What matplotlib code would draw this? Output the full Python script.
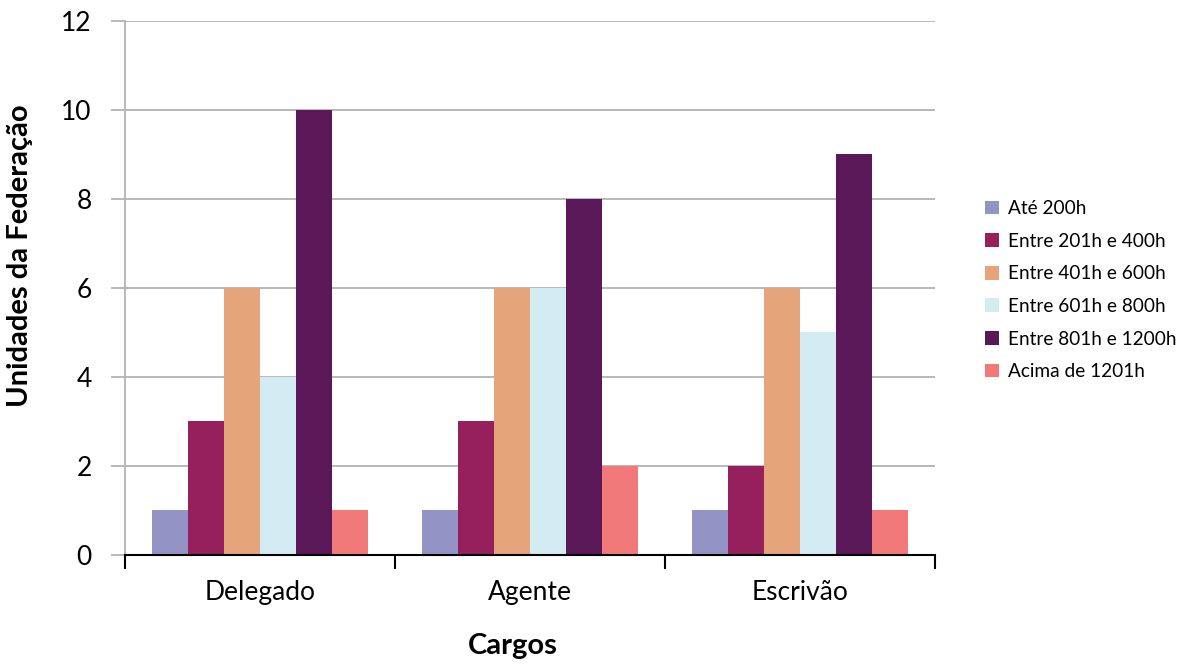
import matplotlib
matplotlib.use("Agg")
import matplotlib.pyplot as plt
import numpy as np

plt.rcParams['font.family'] = ['Lato', 'DejaVu Sans']

categories = ["Delegado", "Agente", "Escrivão"]
series_names = ["Até 200h", "Entre 201h e 400h", "Entre 401h e 600h",
                "Entre 601h e 800h", "Entre 801h e 1200h", "Acima de 1201h"]
ate_200 = [1, 1, 1]
entre_201_400 = [3, 3, 2]
entre_401_600 = [6, 6, 6]
entre_601_800 = [4, 6, 5]
entre_801_1200 = [10, 8, 9]
acima_1201 = [1, 2, 1]
y_ticks = [0, 2, 4, 6, 8, 10, 12]

series = [ate_200, entre_201_400, entre_401_600, entre_601_800, entre_801_1200, acima_1201]
colors = ["#9493C6", "#961F5D", "#E6A47B", "#D3EBF2", "#5A1859", "#F2797A"]

fig = plt.figure(figsize=(11.82, 6.66), dpi=100)
ax = fig.add_axes([0.1058, 0.1667, 0.6853, 0.8018])

n = len(series)
group_w = 0.8
bw = group_w / n
x = np.arange(len(categories))
for i, (vals, c, name) in enumerate(zip(series, colors, series_names)):
    offs = -group_w / 2 + bw * (i + 0.5)
    ax.bar(x + offs, vals, width=bw, color=c, label=name, zorder=3)

ax.set_xlim(-0.5, len(categories) - 0.5)
ax.set_ylim(0, 12)
ax.set_yticks(y_ticks)
ax.set_yticklabels([str(t) for t in y_ticks], fontsize=19)
ax.yaxis.grid(True, color="#B3B3B3", linewidth=1.3, zorder=0)
ax.tick_params(axis='y', length=10, width=1.3, color="#B3B3B3", pad=14)

ax.set_xticks(x)
ax.set_xticklabels(categories, fontsize=19)
ax.set_xticks(np.arange(len(categories) + 1) - 0.5, minor=True)
ax.tick_params(axis='x', which='major', length=0, pad=18)
ax.tick_params(axis='x', which='minor', length=10, width=1.5, color="black")

for side in ["top", "right"]:
    ax.spines[side].set_visible(False)
ax.spines["left"].set_color("#B3B3B3")
ax.spines["left"].set_linewidth(1.3)
ax.spines["bottom"].set_color("black")
ax.spines["bottom"].set_linewidth(1.5)
ax.spines["bottom"].set_zorder(4)

ax.set_ylabel("Unidades da Federação", fontsize=21, fontweight="bold")
ax.yaxis.set_label_coords(-0.1136, 0.56)
ax.set_xlabel("Cargos", fontsize=21, fontweight="bold")
ax.xaxis.set_label_coords(0.479, -0.146)

ax.legend(loc="center left", bbox_to_anchor=(1.04, 0.496), frameon=False,
          fontsize=13.7, handlelength=0.75, handleheight=0.75, labelspacing=0.82,
          handletextpad=0.5)

fig.savefig("out.png", dpi=100)
